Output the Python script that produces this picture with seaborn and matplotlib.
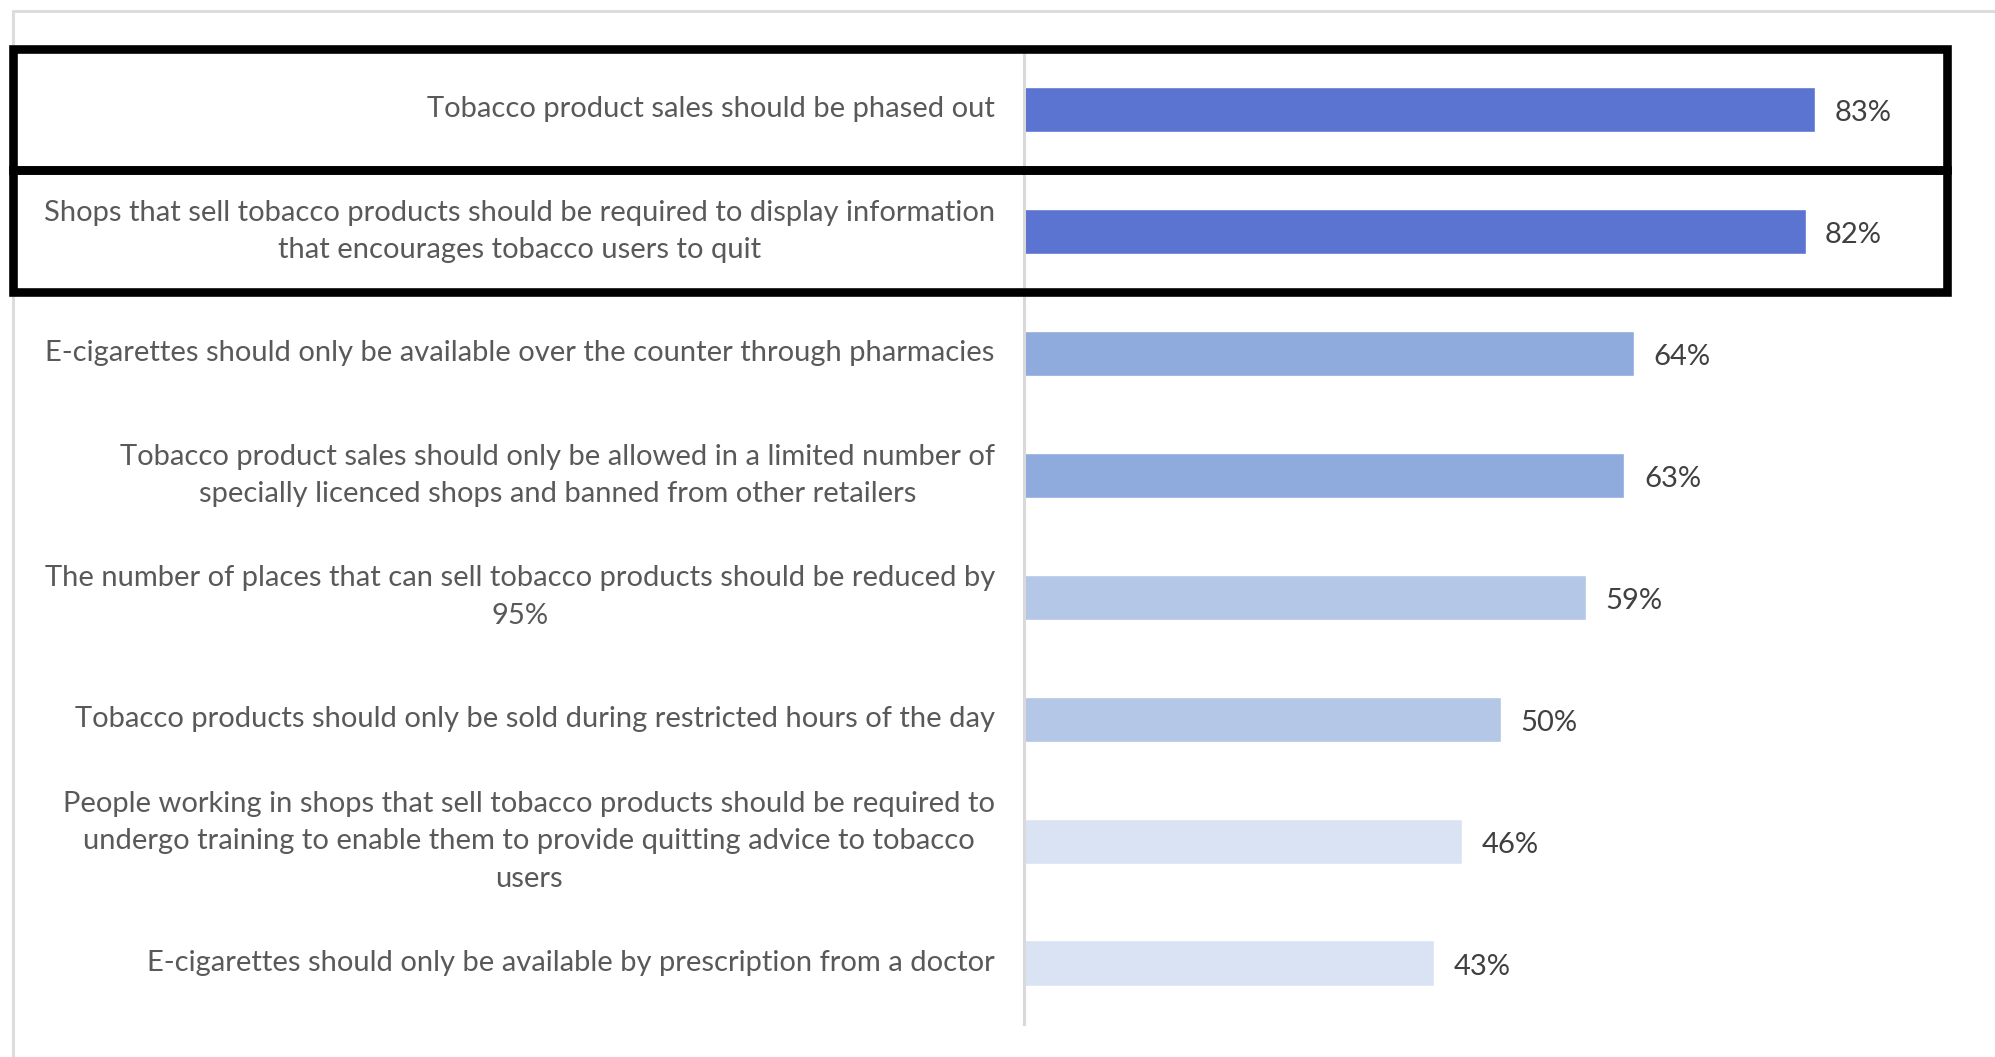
import matplotlib
matplotlib.use("Agg")
import matplotlib.pyplot as plt
import seaborn as sns
from matplotlib.patches import Rectangle
from matplotlib.lines import Line2D
from matplotlib.transforms import blended_transform_factory

statements = [
    "Tobacco product sales should be phased out",
    "Shops that sell tobacco products should be required to display information\nthat encourages tobacco users to quit",
    "E-cigarettes should only be available over the counter through pharmacies",
    "Tobacco product sales should only be allowed in a limited number of\nspecially licenced shops and banned from other retailers",
    "The number of places that can sell tobacco products should be reduced by\n95%",
    "Tobacco products should only be sold during restricted hours of the day",
    "People working in shops that sell tobacco products should be required to\nundergo training to enable them to provide quitting advice to tobacco\nusers",
    "E-cigarettes should only be available by prescription from a doctor",
]
support = [83, 82, 64, 63, 59, 50, 46, 43]
bar_colors = ["#5B73D1", "#5B73D1", "#8FAADC", "#8FAADC",
              "#B4C7E7", "#B4C7E7", "#DAE3F3", "#DAE3F3"]
highlighted = [0, 1]

sns.set_style("white")
plt.rcParams["font.family"] = ["Lato", "DejaVu Sans"]

fig = plt.figure(figsize=(19.95, 10.57), dpi=100)
ax = fig.add_axes([0.5133, 0.0312, 0.4777, 0.9229])

sns.barplot(x=support, y=statements, hue=statements, palette=bar_colors,
            legend=False, width=0.37, ax=ax, saturation=1)

for c in ax.containers:
    for t in ax.bar_label(c, fmt="{:.0f}%", padding=14, fontsize=21, color="#404040"):
        t.xyann = (14, -2.5)

ax.set_xlim(0, 100)
ax.set_ylim(len(statements) - 0.5, -0.5)
ax.set_xlabel("")
ax.set_ylabel("")
ax.set_xticks([])
sns.despine(ax=ax, top=True, right=True, bottom=True, left=False)
ax.spines["left"].set_color("#D9D9D9")
ax.spines["left"].set_linewidth(2.2)
ax.tick_params(axis="y", length=0, pad=21, labelsize=21, labelcolor="#595959")
for t in ax.get_yticklabels():
    t.set_multialignment("center")
    t.set_linespacing(1.55)
    t.set_verticalalignment("center")

# light frame of the slide (kept under everything else)
fig.add_artist(Line2D([13 / 1995, 1.0], [1 - 11 / 1057, 1 - 11 / 1057],
                      transform=fig.transFigure, color="#DCDCDC", lw=2.2, zorder=-1))
fig.add_artist(Line2D([13 / 1995, 13 / 1995], [0.0, 1 - 11 / 1057],
                      transform=fig.transFigure, color="#DCDCDC", lw=2.2, zorder=-1))

# black highlight boxes around the top rows
trans = blended_transform_factory(fig.transFigure, ax.transData)
for i in highlighted:
    ax.add_patch(Rectangle((12.5 / 1995, i - 0.5), (1946.5 - 12.5) / 1995, 1.0,
                           transform=trans, fill=False, edgecolor="black",
                           lw=6.2, clip_on=False, zorder=5))

fig.savefig("out.png", dpi=100, facecolor="white")
